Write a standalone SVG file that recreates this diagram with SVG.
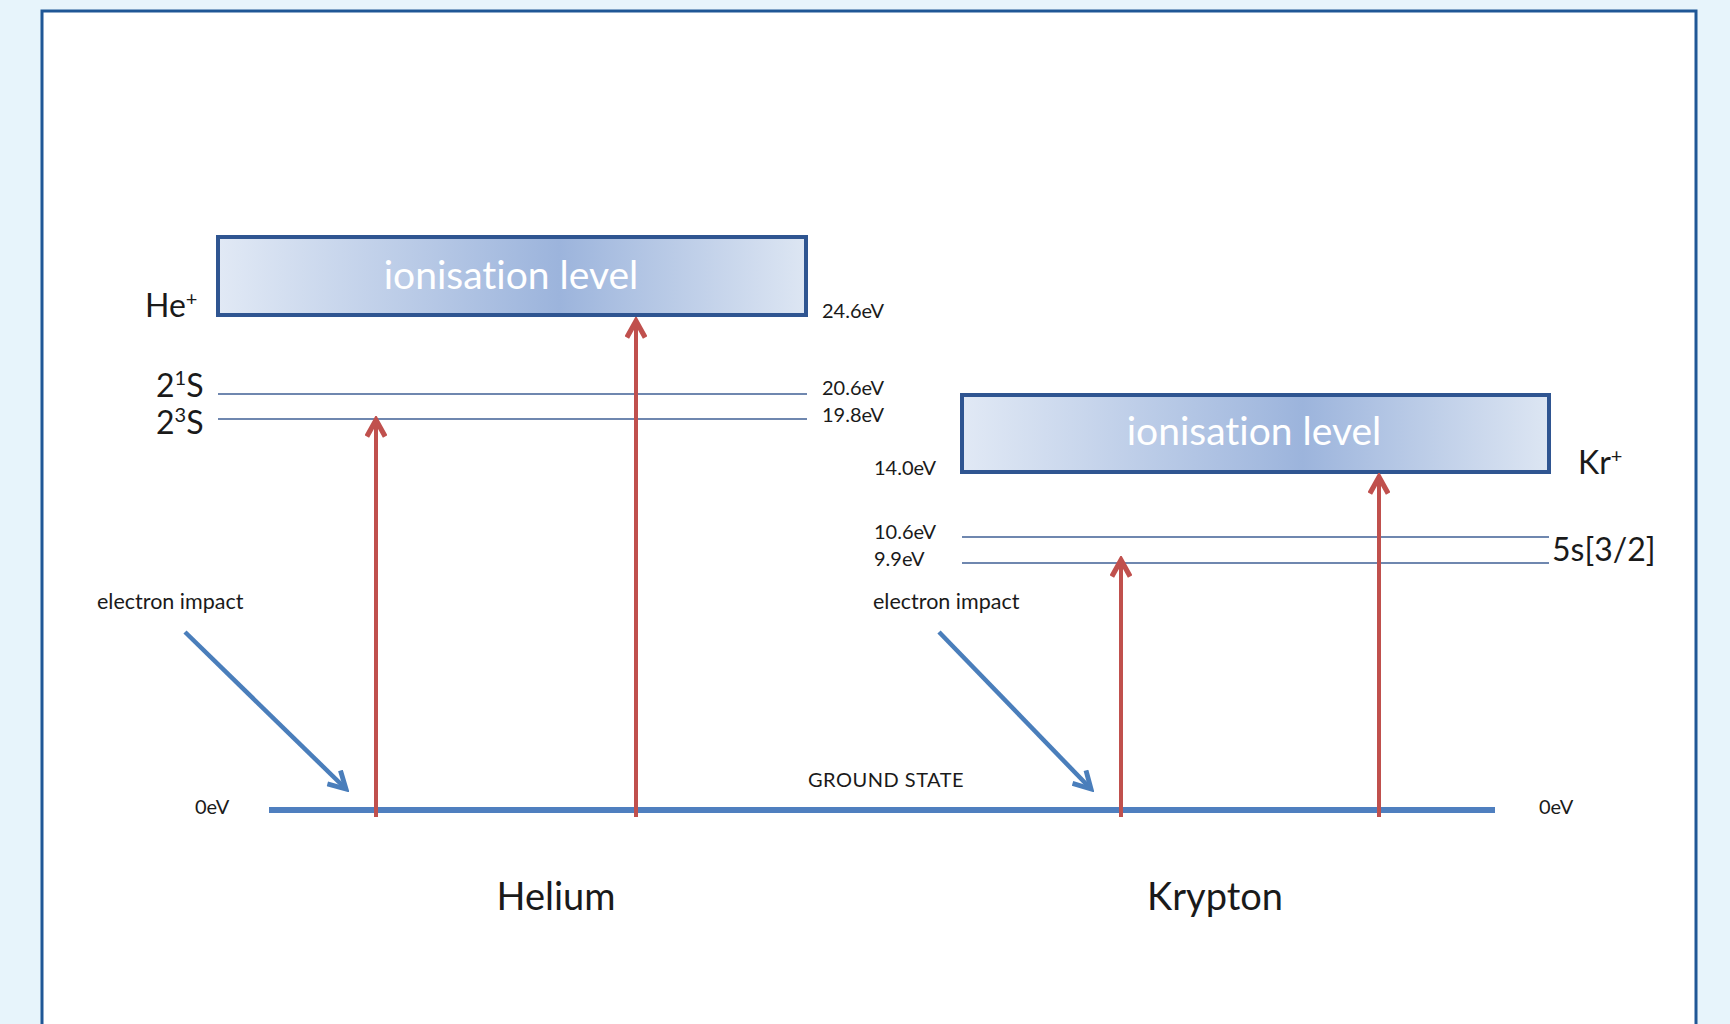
<svg xmlns="http://www.w3.org/2000/svg" width="1730" height="1024" viewBox="0 0 1730 1024">
  <style>
    text { font-variant-ligatures: none; }
    .t { font-family: Lato, "Open Sans", "Liberation Sans", sans-serif; fill: #1a1a1a; }
    .sm { font-size: 20px; }
    .ei { font-size: 21.5px; }
    .md { font-size: 32px; }
    .lg { font-size: 38px; }
    .ion { font-family: Lato, "Open Sans", "Liberation Sans", sans-serif; font-size: 39px; fill: #ffffff; text-anchor: middle; }
    .lvl { stroke: #3f5f94; stroke-width: 1.3; }
    .box { fill: url(#boxFill); stroke: #2f5591; stroke-width: 4; }
    .exc { stroke: #c0504d; stroke-width: 4; fill: none; marker-end: url(#redHead); }
    .imp { stroke: #4a7ebb; stroke-width: 4.5; fill: none; marker-end: url(#blueHead); }
  </style>
  <defs>
    <linearGradient id="boxFill" x1="0" y1="0" x2="1" y2="0">
      <stop offset="0" stop-color="#e1e9f5"/>
      <stop offset="0.58" stop-color="#9cb4dc"/>
      <stop offset="1" stop-color="#dde6f3"/>
    </linearGradient>
    <marker id="redHead" viewBox="0 0 12 12" refX="10" refY="6" markerWidth="5.5" markerHeight="5.5" orient="auto" markerUnits="strokeWidth">
      <path d="M1,1 L10,6 L1,11" fill="none" stroke="#c0504d" stroke-width="2.8"/>
    </marker>
    <marker id="blueHead" viewBox="0 0 12 12" refX="10" refY="6" markerWidth="5" markerHeight="5" orient="auto" markerUnits="strokeWidth">
      <path d="M1,1 L10,6 L1,11" fill="none" stroke="#4a7ebb" stroke-width="2.6"/>
    </marker>
  </defs>

  <!-- page background and frame -->
  <rect x="0" y="0" width="1730" height="1024" fill="#e7f4fb"/>
  <rect x="42" y="11" width="1654" height="1030" fill="#ffffff" stroke="#1f5796" stroke-width="3"/>

  <!-- helium ionisation level -->
  <g id="he-ion">
    <rect class="box" x="218" y="237" width="588" height="78"/>
    <text class="ion" x="511" y="289">ionisation level</text>
  </g>

  <!-- krypton ionisation level -->
  <g id="kr-ion">
    <rect class="box" x="962" y="395" width="587" height="77"/>
    <text class="ion" x="1254" y="445">ionisation level</text>
  </g>

  <!-- helium metastable levels -->
  <g id="he-levels">
    <line class="lvl" x1="218" y1="394" x2="807" y2="394"/>
    <line class="lvl" x1="218" y1="419" x2="807" y2="419"/>
    <text class="t md" x="145" y="317">He<tspan font-size="20" dy="-11">+</tspan></text>
    <text class="t md" x="156" y="397">2<tspan font-size="20" dy="-12">1</tspan><tspan dy="12">S</tspan></text>
    <text class="t md" x="156" y="434">2<tspan font-size="20" dy="-12">3</tspan><tspan dy="12">S</tspan></text>
    <text class="t sm" x="822" y="318">24.6eV</text>
    <text class="t sm" x="822" y="395">20.6eV</text>
    <text class="t sm" x="822" y="422">19.8eV</text>
  </g>

  <!-- krypton metastable levels -->
  <g id="kr-levels">
    <line class="lvl" x1="962" y1="537" x2="1549" y2="537"/>
    <line class="lvl" x1="962" y1="563" x2="1549" y2="563"/>
    <text class="t md" x="1578" y="474">Kr<tspan font-size="20" dy="-11">+</tspan></text>
    <text class="t md" x="1552" y="561">5s[3/2]</text>
    <text class="t sm" x="874" y="475">14.0eV</text>
    <text class="t sm" x="874" y="539">10.6eV</text>
    <text class="t sm" x="874" y="566">9.9eV</text>
  </g>

  <!-- ground state -->
  <g id="ground">
    <line x1="269" y1="810" x2="1495" y2="810" stroke="#4f7fbf" stroke-width="6"/>
    <text class="t sm" x="195" y="814">0eV</text>
    <text class="t sm" x="1539" y="814">0eV</text>
    <text class="t sm" x="808" y="787" letter-spacing="0.5">GROUND STATE</text>
  </g>

  <!-- electron impact labels -->
  <g id="impact-labels">
    <text class="t ei" x="97" y="609">electron impact</text>
    <text class="t ei" x="873" y="609">electron impact</text>
  </g>

  <!-- element names -->
  <g id="names">
    <text class="t lg" x="556" y="910" text-anchor="middle">Helium</text>
    <text class="t lg" x="1215" y="910" text-anchor="middle">Krypton</text>
  </g>

  <!-- excitation and impact arrows -->
  <g id="connectors">
    <line class="exc" x1="376" y1="817" x2="376" y2="420"/>
    <line class="exc" x1="636" y1="817" x2="636" y2="321"/>
    <line class="exc" x1="1121" y1="817" x2="1121" y2="560"/>
    <line class="exc" x1="1379" y1="817" x2="1379" y2="477"/>
    <line class="imp" x1="185" y1="632" x2="346" y2="789"/>
    <line class="imp" x1="939" y1="632" x2="1091" y2="789"/>
  </g>
</svg>
